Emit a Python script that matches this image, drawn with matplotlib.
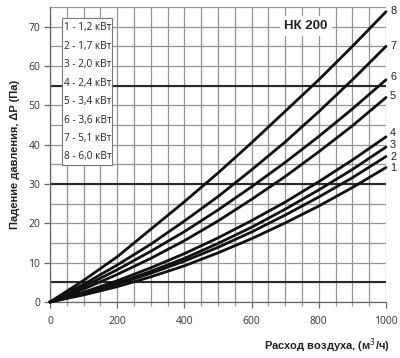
import matplotlib
matplotlib.use("Agg")
import matplotlib.pyplot as plt
from matplotlib.patches import Rectangle
import numpy as np

flow = [0, 100, 200, 300, 400, 500, 600, 700, 800, 900, 1000]
c1 = [0, 1.8, 3.9, 6.4, 9.2, 12.5, 16.1, 20.1, 24.4, 29.1, 34.2]
c2 = [0, 2.1, 4.5, 7.3, 10.4, 13.9, 17.8, 22.1, 26.7, 31.6, 37.0]
c3 = [0, 2.2, 4.8, 7.8, 11.1, 14.9, 19.0, 23.6, 28.5, 33.7, 39.4]
c4 = [0, 2.5, 5.4, 8.7, 12.3, 16.3, 20.7, 25.4, 30.6, 36.1, 42.0]
c5 = [0, 3.3, 7.0, 11.1, 15.6, 20.6, 26.1, 31.9, 38.2, 44.8, 52.0]
c6 = [0, 3.9, 8.2, 12.9, 17.9, 23.4, 29.3, 35.5, 42.1, 49.1, 56.5]
c7 = [0, 4.5, 9.4, 14.7, 20.6, 26.8, 33.6, 40.7, 48.4, 56.5, 65.0]
c8 = [0, 5.5, 11.5, 18.5, 25.5, 32.8, 40.5, 48.5, 56.5, 65.0, 73.8]
curves = [c1, c2, c3, c4, c5, c6, c7, c8]
curve_labels = ["1", "2", "3", "4", "5", "6", "7", "8"]
label_y = [34.0, 36.9, 39.8, 42.9, 52.5, 57.3, 65.2, 74.0]
legend_items = ["1 - 1,2 кВт", "2 - 1,7 кВт", "3 - 2,0 кВт", "4 - 2,4 кВт",
                "5 - 3,4 кВт", "6 - 3,6 кВт", "7 - 5,1 кВт", "8 - 6,0 кВт"]
title = "НК 200"
xticks = [0, 200, 400, 600, 800, 1000]
yticks = [0, 10, 20, 30, 40, 50, 60, 70]
thick_y = [5, 30, 55]

fig = plt.figure(figsize=(4.0, 3.58), dpi=100)
ax = fig.add_axes([0.125, 0.1564, 0.84, 0.824])
ax.set_xlim(0, 1000)
ax.set_ylim(0, 75)

ax.set_xticks(xticks)
ax.set_xticks(np.arange(0, 1001, 50), minor=True)
ax.set_yticks(yticks)
ax.set_yticks(np.arange(0, 76, 5), minor=True)
ax.grid(which="both", color="#949494", linewidth=0.9)
ax.set_axisbelow(True)
for y in thick_y:
    ax.axhline(y, color="#2a2a2a", linewidth=1.5, zorder=1)

for s in ["top", "right"]:
    ax.spines[s].set_visible(False)
for s in ["left", "bottom"]:
    ax.spines[s].set_color("#666666")
    ax.spines[s].set_linewidth(0.9)

ax.tick_params(axis="both", which="major", length=4, width=0.9, color="#666666",
               labelsize=7.5, labelcolor="#333333", pad=3)
ax.tick_params(axis="x", which="minor", length=3, width=0.9, color="#949494")
ax.tick_params(axis="y", which="minor", length=0)
ax.tick_params(axis="x", which="major", pad=6)
for lab in ax.get_xticklabels() + ax.get_yticklabels():
    lab.set_family("Open Sans")

for c in curves:
    ax.plot(flow, c, color="#111111", linewidth=2.0, zorder=3,
            solid_capstyle="round", clip_on=False)

for lab, y in zip(curve_labels, label_y):
    ax.text(1012, y, lab, fontsize=7.8, color="#222222", ha="left", va="center",
            family="Liberation Sans", clip_on=False)

ax.text(762, 70.2, title, fontsize=9.5, fontweight="bold", color="#222222",
        family="Liberation Sans", ha="center", va="center", zorder=5,
        bbox=dict(facecolor="white", edgecolor="none", pad=3))

ax.add_patch(Rectangle((36, 34.9), 149, 37.4, facecolor="white",
                       edgecolor="#777777", linewidth=0.8, zorder=4))
for i, t in enumerate(legend_items):
    ax.text(42, 69.7 - i * 4.69, t, fontsize=7.2, color="#222222",
            family="Open Sans", ha="left", va="center", zorder=5)

ax.set_ylabel("Падение давления, ΔP (Па)", fontsize=8, fontweight="bold",
              family="Liberation Sans", color="#222222", labelpad=6)
fig.text(0.818, 0.035, "Расход воздуха, (м$^{3}$/ч)", fontsize=8, fontweight="bold",
         family="Liberation Sans", color="#222222", ha="center", va="center")

fig.savefig("out.png", dpi=100)
